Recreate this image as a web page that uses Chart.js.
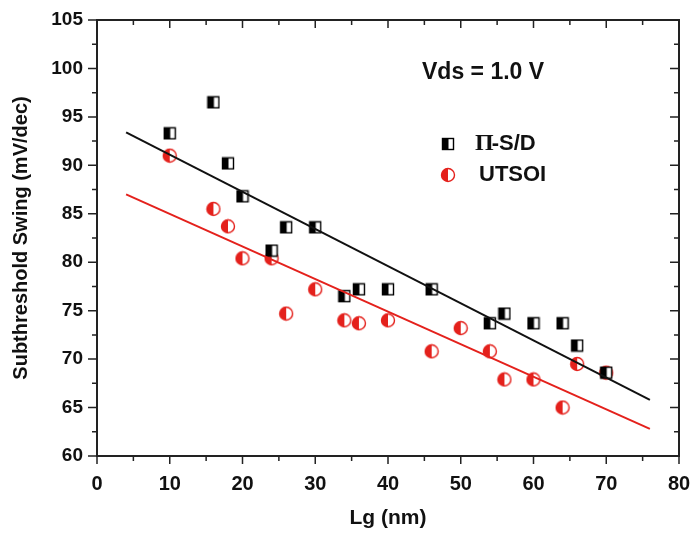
<!DOCTYPE html>
<html>
<head>
<meta charset="utf-8">
<script src="https://cdn.jsdelivr.net/npm/chart.js@4.4.0/dist/chart.umd.min.js"></script>
<style>
  html, body { margin: 0; padding: 0; background: #fff; }
  #wrap { width: 691px; height: 533px; }
</style>
</head>
<body>
<div id="wrap"><canvas id="grafico" width="691" height="533"></canvas></div>
<script>
// dados
const lgPiSD = [10, 16, 18, 20, 24, 26, 30, 34, 36, 40, 46, 54, 56, 60, 64, 66, 70];
const ssPiSD = [93.3, 96.5, 90.2, 86.8, 81.2, 83.6, 83.6, 76.5, 77.2, 77.2, 77.2, 73.7, 74.7, 73.7, 73.7, 71.4, 68.6];
const lgUTSOI = [10, 16, 18, 20, 24, 26, 30, 34, 36, 40, 46, 50, 54, 56, 60, 64, 66, 70];
const ssUTSOI = [91.0, 85.5, 83.7, 80.4, 80.4, 74.7, 77.2, 74.0, 73.7, 74.0, 70.8, 73.2, 70.8, 67.9, 67.9, 65.0, 69.5, 68.6];
const lgFit = [4, 76];
const fitPiSD = [93.4, 65.8];
const fitUTSOI = [87.0, 62.8];
const xTicks = [0, 10, 20, 30, 40, 50, 60, 70, 80];
const yTicks = [60, 65, 70, 75, 80, 85, 90, 95, 100, 105];

const RED = '#e4211c';
const FONT = '"Liberation Sans", Arial, sans-serif';

function pares(xs, ys) {
    return xs.map((x, i) => ({ x: x, y: ys[i] }));
}

// marcadores meio preenchidos
function quadrado() {
    const c = document.createElement('canvas');
    c.width = 14; c.height = 14;
    const g = c.getContext('2d');
    g.fillStyle = '#fff';
    g.fillRect(1, 1, 12, 12);
    g.fillStyle = '#000';
    g.fillRect(1, 1, 6.5, 12);
    g.strokeStyle = '#000';
    g.lineWidth = 1.4;
    g.strokeRect(1.5, 1.5, 11, 11);
    return c;
}
function circulo() {
    const c = document.createElement('canvas');
    c.width = 16; c.height = 16;
    const g = c.getContext('2d');
    g.fillStyle = '#fff';
    g.beginPath(); g.arc(8, 8, 6.5, 0, Math.PI * 2); g.fill();
    g.fillStyle = RED;
    g.beginPath(); g.arc(8, 8, 6.5, Math.PI / 2, Math.PI * 1.5); g.fill();
    g.strokeStyle = RED;
    g.lineWidth = 1.4;
    g.beginPath(); g.arc(8, 8, 6.5, 0, Math.PI * 2); g.stroke();
    return c;
}
const imgQuad = quadrado();
const imgCirc = circulo();

// moldura, ticks e legenda
const moldura = {
    id: 'moldura',
    afterDraw(chart) {
        const ctx = chart.ctx;
        const a = chart.chartArea;
        const sx = chart.scales.x, sy = chart.scales.y;
        ctx.save();
        ctx.strokeStyle = '#222';
        ctx.lineWidth = 2;
        ctx.strokeRect(a.left, a.top, a.right - a.left, a.bottom - a.top);
        ctx.lineWidth = 1.5;
        ctx.beginPath();
        for (let v = 0; v <= 80; v += 5) {
            const px = sx.getPixelForValue(v);
            const len = v % 10 === 0 ? 8 : 5;
            ctx.moveTo(px, a.bottom); ctx.lineTo(px, a.bottom + len);
            ctx.moveTo(px, a.top); ctx.lineTo(px, a.top + len);
        }
        for (let v = 60; v <= 105; v += 2.5) {
            const py = sy.getPixelForValue(v);
            const len = v % 5 === 0 ? 9 : 5;
            ctx.moveTo(a.left, py); ctx.lineTo(a.left - len, py);
            ctx.moveTo(a.right, py); ctx.lineTo(a.right - len, py);
        }
        ctx.stroke();

        ctx.fillStyle = '#111';
        ctx.textBaseline = 'middle';
        ctx.textAlign = 'left';
        ctx.font = 'bold 23px ' + FONT;
        ctx.fillText('Vds = 1.0 V', 422, 73);

        ctx.drawImage(imgQuad, 441, 137);
        ctx.drawImage(imgCirc, 440, 167);
        ctx.font = 'bold 24px "Liberation Serif", serif';
        ctx.fillText('Π', 475, 144);
        const w = ctx.measureText('Π').width;
        ctx.font = 'bold 22px ' + FONT;
        ctx.fillText('-S/D', 475 + w - 2, 144);
        ctx.fillText('UTSOI', 479, 175);
        ctx.restore();
    }
};

const ctx = document.getElementById('grafico').getContext('2d');
const grafico = new Chart(ctx, {
    type: 'scatter',
    data: {
        datasets: [
            {
                label: 'Π-S/D fit',
                type: 'line',
                data: pares(lgFit, fitPiSD),
                borderColor: '#111',
                borderWidth: 2,
                pointRadius: 0,
                fill: false
            },
            {
                label: 'UTSOI fit',
                type: 'line',
                data: pares(lgFit, fitUTSOI),
                borderColor: RED,
                borderWidth: 2,
                pointRadius: 0,
                fill: false
            },
            {
                label: 'Π-S/D',
                data: pares(lgPiSD, ssPiSD),
                pointStyle: imgQuad
            },
            {
                label: 'UTSOI',
                data: pares(lgUTSOI, ssUTSOI),
                pointStyle: imgCirc
            }
        ]
    },
    options: {
        responsive: false,
        animation: false,
        layout: { padding: { top: 20, right: 12, left: 0, bottom: 0 } },
        plugins: {
            legend: { display: false },
            tooltip: { enabled: false }
        },
        scales: {
            x: {
                type: 'linear',
                min: 0,
                max: 80,
                afterBuildTicks: (s) => { s.ticks = xTicks.map(v => ({ value: v })); },
                afterFit: (s) => {
                    s.height = 77;
                    s.paddingLeft = 0;
                    s.paddingRight = 0;
                },
                grid: { display: false, drawTicks: false },
                border: { display: false },
                ticks: {
                    color: '#111',
                    padding: 16,
                    font: { family: FONT, size: 20, weight: 'bold' }
                },
                title: {
                    display: true,
                    text: 'Lg (nm)',
                    color: '#111',
                    padding: { top: 0, bottom: 2 },
                    font: { family: FONT, size: 21, weight: 'bold' }
                }
            },
            y: {
                type: 'linear',
                min: 60,
                max: 105,
                afterBuildTicks: (s) => { s.ticks = yTicks.map(v => ({ value: v })); },
                afterFit: (s) => {
                    s.width = 97;
                    s.paddingTop = 0;
                    s.paddingBottom = 0;
                },
                grid: { display: false, drawTicks: false },
                border: { display: false },
                ticks: {
                    color: '#111',
                    padding: 14,
                    font: { family: FONT, size: 19, weight: 'bold' }
                },
                title: {
                    display: true,
                    text: 'Subthreshold Swing (mV/dec)',
                    color: '#111',
                    padding: { top: 9, bottom: 0 },
                    font: { family: FONT, size: 20, weight: 'bold' }
                }
            }
        }
    },
    plugins: [moldura]
});
</script>
</body>
</html>
